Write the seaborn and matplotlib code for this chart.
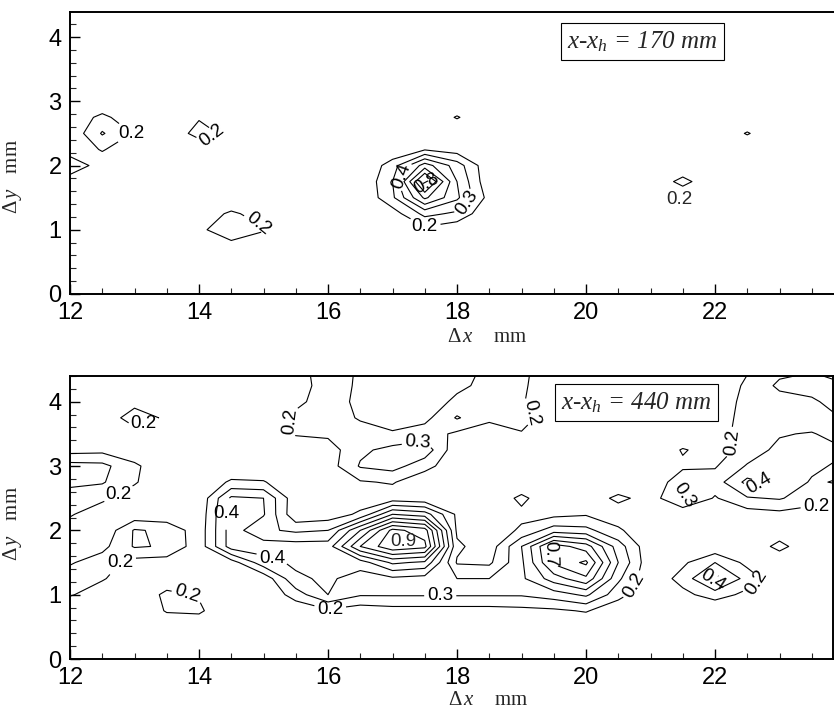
import numpy as np
import matplotlib
matplotlib.use("Agg")
import matplotlib.pyplot as plt
from matplotlib.ticker import MultipleLocator
import seaborn as sns

sns.set_style("ticks")
plt.rcParams["font.family"] = ["Liberation Sans", "DejaVu Sans"]
plt.rcParams["mathtext.fontset"] = "custom"
plt.rcParams["mathtext.rm"] = "Liberation Serif"
plt.rcParams["mathtext.it"] = "Liberation Serif:italic"

# ---------------- grid (mm) ----------------
x_mm = [12.0, 12.5, 13.0, 13.5, 14.0, 14.5, 15.0, 15.5, 16.0, 16.5, 17.0, 17.5,
        18.0, 18.5, 19.0, 19.5, 20.0, 20.5, 21.0, 21.5, 22.0, 22.5, 23.0, 23.5, 24.0]
y_mm = [0.0, 0.25, 0.5, 0.75, 1.0, 1.25, 1.5, 1.75, 2.0, 2.25, 2.5, 2.75, 3.0,
        3.25, 3.5, 3.75, 4.0, 4.25, 4.5]
levels = [0.2, 0.3, 0.4, 0.5, 0.6, 0.7, 0.8, 0.9]
x_ticks = [12, 14, 16, 18, 20, 22]
y_ticks = [0, 1, 2, 3, 4]

# ------------- panel 1: x - x_h = 170 mm (values x100) -------------
t_y450 = [10,10,10,10,10,10,10,10,10,10,10,10,10,10,10,10,10,10,10,10,10,10,10,10,10]
t_y425 = [10,10,10,10,10,10,10,10,10,10,10,10,10,10,10,10,10,10,10,10,10,10,10,10,10]
t_y400 = [10,10,10,10,10,10,10,10,10,10,10,10,10,10,10,10,10,10,10,10,10,10,10,10,10]
t_y375 = [10,10,10,10,10,10,10,10,10,10,10,10,10,10,10,10,10,10,10,10,10,10,10,10,10]
t_y350 = [10,10,10,10,10,10,10,10,10,10,10,10,10,10,10,10,10,10,10,10,10,10,10,10,10]
t_y325 = [10,10,10,10,10,10,10,10,10,10,10,10,10,10,10,10,10,10,10,10,10,10,10,10,10]
t_y300 = [10,10,10,10,10,10,10,10,10,10,10,10,10,10,10,10,10,10,10,10,10,10,10,10,10]
t_y275 = [12,23,12,12,19,12,10,10,10,10,10,10,21,10,10,10,10,10,10,10,10,10,10,10,10]
t_y250 = [12,31,19,12,24,17,10,10,10,10,10,10,10,10,10,10,10,10,10,10,10,21,10,10,10]
t_y225 = [12,21,12,10,12,10,10,10,10,10,12,19,15,10,10,10,10,10,10,10,10,10,10,10,10]
t_y200 = [30,13,10,10,10,10,10,10,10,10,25,55,35,12,10,10,10,10,10,10,10,10,10,10,10]
t_y175 = [12,10,10,10,10,10,10,10,10,10,30,86,40,12,10,10,10,10,10,24,10,10,10,10,10]
t_y150 = [10,10,10,10,10,10,10,10,10,10,28,62,42,16,10,10,10,10,10,10,10,10,10,10,10]
t_y125 = [10,10,10,10,13,22,15,10,10,10,15,33,28,11,10,10,10,10,10,10,10,10,10,10,10]
t_y100 = [10,10,10,10,18,26,21,10,10,10,10,17,12,10,10,10,10,10,10,10,10,10,10,10,10]
t_y075 = [10,10,10,10,12,17,12,10,10,10,10,10,10,10,10,10,10,10,10,10,10,10,10,10,10]
t_y050 = [10,10,10,10,10,10,10,10,10,10,10,10,10,10,10,10,10,10,10,10,10,10,10,10,10]
t_y025 = [10,10,10,10,10,10,10,10,10,10,10,10,10,10,10,10,10,10,10,10,10,10,10,10,10]
t_y000 = [10,10,10,10,10,10,10,10,10,10,10,10,10,10,10,10,10,10,10,10,10,10,10,10,10]

# ------------- panel 2: x - x_h = 440 mm (values x100) -------------
b_y450 = [10,10,10,10,10,10,10,17,24,19,14,12,14,23,23,12,10,10,10,10,12,19,27,29,25]
b_y425 = [10,10,10,10,10,10,10,17,23,19,14,12,17,24,22,12,10,10,10,10,12,22,32,35,31]
b_y400 = [10,10,16,12,10,10,10,18,24,18,13,12,23,25,21,12,10,10,10,10,12,24,26,28,36]
b_y375 = [10,12,26,18,10,10,12,22,25,19,12,17,31,22,25,13,10,10,10,10,13,25,24,22,31]
b_y350 = [10,11,15,12,10,10,10,21,22,24,22,25,18,15,19,12,10,10,10,10,14,26,29,31,24]
b_y325 = [16,17,13,10,10,10,10,12,15,28,33,36,13,11,12,10,10,10,10,21,15,24,33,34,31]
b_y300 = [34,33,22,12,10,10,10,11,15,31,34,24,12,10,10,10,10,10,10,18,19,31,35,32,28]
b_y275 = [33,31,21,12,10,22,21,10,11,19,21,12,10,10,10,10,10,10,12,27,25,43,37,29,31]
b_y250 = [24,22,15,11,12,42,40,13,12,14,14,12,11,10,23,10,12,23,15,31,19,29,31,24,26]
b_y225 = [21,14,13,12,13,45,41,12,14,22,50,45,18,12,17,17,19,13,11,12,12,15,17,16,17]
b_y200 = [15,12,31,28,14,45,32,28,30,60,93,85,18,12,22,35,33,22,10,10,10,10,12,12,10]
b_y175 = [14,17,31,29,14,45,45,45,45,80,98,93,22,14,40,75,65,35,12,10,12,10,24,10,10]
b_y150 = [19,25,16,15,12,15,36,42,42,45,62,58,19,18,38,72,82,40,12,18,30,17,10,10,10]
b_y125 = [25,21,13,12,10,10,13,38,42,35,38,36,30,30,38,55,68,32,12,24,44,26,12,10,10]
b_y100 = [21,14,10,23,19,10,10,25,40,31,31,31,31,31,31,35,42,24,10,17,25,17,10,10,10]
b_y075 = [10,10,10,21,22,10,10,12,18,14,16,16,16,16,17,18,21,12,10,10,10,10,10,10,10]
b_y050 = [10,10,10,12,12,10,10,10,10,10,10,10,10,10,10,10,10,10,10,10,10,10,10,10,10]
b_y025 = [10,10,10,10,10,10,10,10,10,10,10,10,10,10,10,10,10,10,10,10,10,10,10,10,10]
b_y000 = [10,10,10,10,10,10,10,10,10,10,10,10,10,10,10,10,10,10,10,10,10,10,10,10,10]

# contour label anchor points (data coords) per level: rotated / horizontal
top_labels = {0.2: [(14.19, 2.5), (14.88, 1.03)],
              0.3: [(18.12, 1.46)],
              0.4: [(16.99, 1.93)],
              0.8: [(17.61, 1.62)]}
top_flat = {0.2: [(13.2, 2.49), (17.46, 0.98)]}
bot_labels = {0.2: [(13.8, 0.89), (15.36, 3.69), (19.16, 3.83), (20.56, 1.26),
                    (22.34, 3.37), (22.67, 1.15)],
              0.3: [(17.38, 3.45), (21.58, 2.58)],
              0.4: [(22.7, 2.66), (21.92, 1.15)],
              0.7: [(19.52, 1.65)]}
bot_flat = {0.2: [(13.16, 3.59), (12.78, 2.52), (12.78, 1.51), (16.03, 0.79),
                  (23.58, 2.43)],
            0.3: [(17.74, 1.04)],
            0.4: [(14.53, 2.24), (15.15, 1.62)]}
speck_label_xy = (21.45, 1.47)

titles = ["170", "440"]

Z_top = np.array([t_y000, t_y025, t_y050, t_y075, t_y100, t_y125, t_y150, t_y175,
                  t_y200, t_y225, t_y250, t_y275, t_y300, t_y325, t_y350, t_y375,
                  t_y400, t_y425, t_y450], float) / 100.0
Z_bot = np.array([b_y000, b_y025, b_y050, b_y075, b_y100, b_y125, b_y150, b_y175,
                  b_y200, b_y225, b_y250, b_y275, b_y300, b_y325, b_y350, b_y375,
                  b_y400, b_y425, b_y450], float) / 100.0

W, H = 834, 713
fig = plt.figure(figsize=(W / 100, H / 100), dpi=100)
ax1 = fig.add_axes([70 / W, 1 - 294 / H, 764 / W, 282 / H])
ax2 = fig.add_axes([70 / W, 1 - 659 / H, 763 / W, 283 / H])

LABEL_FS = 13.5

def style(ax, xmax, ymax):
    ax.set_facecolor("white")
    ax.set_xlim(12, xmax)
    ax.set_ylim(0, ymax)
    ax.set_xticks(x_ticks)
    ax.set_yticks(y_ticks)
    ax.xaxis.set_minor_locator(MultipleLocator(0.5))
    ax.yaxis.set_minor_locator(MultipleLocator(0.2))
    ax.tick_params(which="major", direction="in", length=7, width=1.0,
                   labelsize=17, pad=6, colors="black")
    ax.tick_params(which="minor", direction="in", length=4, width=0.8)
    for s in ax.spines.values():
        s.set_linewidth(1.4)
        s.set_color("black")
    ax.set_xlabel(r"$\Delta\,x$    mm", fontfamily="Liberation Serif", fontsize=15)
    ax.set_ylabel(r"$\Delta\,y$   mm", fontfamily="Liberation Serif", fontsize=15)

def draw(ax, Z, labels, flat):
    sets = {}
    for lv in levels:
        cs = ax.contour(x_mm, y_mm, Z, levels=[lv], colors="black", linewidths=0.8)
        sets[lv] = cs
        if lv in labels:
            ax.clabel(cs, manual=labels[lv], inline=True, fontsize=LABEL_FS,
                      fmt="%.1f", inline_spacing=3)
        if lv in flat:
            n0 = len(getattr(cs, "labelTexts", []))
            ax.clabel(cs, manual=flat[lv], inline=True, fontsize=LABEL_FS,
                      fmt="%.1f", inline_spacing=3)
            for t in cs.labelTexts[n0:]:
                t.set_rotation(0)
    return sets

style(ax1, 12 + 764 / 64.5, 4.39)
style(ax2, 12 + 763 / 64.5, 4.40)
ax1.spines["right"].set_visible(False)

cs1 = draw(ax1, Z_top, top_labels, top_flat)
cs2 = draw(ax2, Z_bot, bot_labels, bot_flat)

# label below the tiny 0.2 spot in the upper panel
ax1.text(speck_label_xy[0], speck_label_xy[1], f"{levels[0]:.1f}", fontsize=LABEL_FS,
         ha="center", va="center")
# label at centre of the innermost ring of the lower panel
ring = cs2[levels[-1]].allsegs[0][0]
ax2.text(ring[:, 0].mean(), ring[:, 1].mean(), f"{levels[-1]:.1f}", fontsize=LABEL_FS,
         ha="center", va="center")

ax1.xaxis.set_label_coords(0.546, -0.12)
ax2.xaxis.set_label_coords(0.548, -0.112)
ax1.yaxis.set_label_coords(-0.06, 0.417)
ax2.yaxis.set_label_coords(-0.06, 0.48)

box = dict(boxstyle="square,pad=0.25", fc="white", ec="black", lw=0.8)
for ax, pos, t in [(ax1, (0.749, 0.894), titles[0]), (ax2, (0.742, 0.905), titles[1])]:
    ax.text(pos[0], pos[1], r"$x$-$x_h$ = " + t + " mm", transform=ax.transAxes,
            ha="center", va="center", fontsize=18, fontfamily="Liberation Serif",
            fontstyle="italic", bbox=box)

fig.savefig("out.png", dpi=100, facecolor="white")
